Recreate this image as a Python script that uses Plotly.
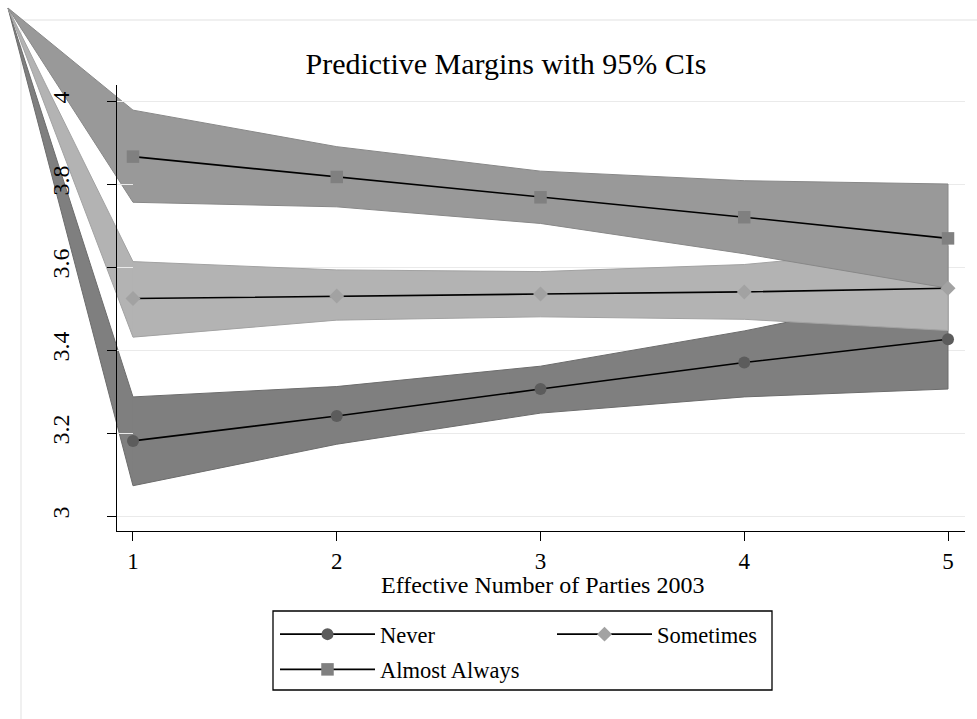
import plotly.graph_objects as go

# ---------------- data ----------------
parties = [1, 2, 3, 4, 5]

never = [3.181, 3.241, 3.306, 3.370, 3.426]
never_lo = [3.073, 3.173, 3.248, 3.287, 3.306]
never_hi = [3.287, 3.312, 3.361, 3.446, 3.546]

sometimes = [3.524, 3.530, 3.535, 3.540, 3.549]
sometimes_lo = [3.431, 3.472, 3.480, 3.474, 3.447]
sometimes_hi = [3.613, 3.593, 3.589, 3.606, 3.651]

almost = [3.866, 3.817, 3.768, 3.720, 3.669]
almost_lo = [3.756, 3.745, 3.705, 3.632, 3.549]
almost_hi = [3.978, 3.890, 3.831, 3.808, 3.800]

y_ticks = [3, 3.2, 3.4, 3.6, 3.8, 4]
y_ticktext = ["3", "3.2", "3.4", "3.6", "3.8", "4"]
x_ticks = [1, 2, 3, 4, 5]

# ---------------- layout geometry ----------------
W, H = 977, 719
ML, MR, MT, MB = 117, 12, 85, 188
X_RANGE = [0.9215, 5.0834]
Y_RANGE = [2.9639, 4.0386]
FONT = "Liberation Serif"


def data_to_paper(x, y):
    return ((x - X_RANGE[0]) / (X_RANGE[1] - X_RANGE[0]),
            (y - Y_RANGE[0]) / (Y_RANGE[1] - Y_RANGE[0]))


def px_to_paper(px, py):
    return ((px - ML) / (W - ML - MR), (H - MB - py) / (H - MT - MB))


series = [
    dict(name="Never", mean=never, lo=never_lo, hi=never_hi,
         band="#7f7f7f", edge="#6c6c6c", mcol="#5c5c5c", symbol="circle", size=12,
         legend="legend", group="a"),
    dict(name="Sometimes", mean=sometimes, lo=sometimes_lo, hi=sometimes_hi,
         band="#b3b3b3", edge="#a2a2a2", mcol="#a2a2a2", symbol="diamond", size=11.5,
         legend="legend2", group="b"),
    dict(name="Almost Always", mean=almost, lo=almost_lo, hi=almost_hi,
         band="#999999", edge="#888888", mcol="#808080", symbol="square", size=12.5,
         legend="legend", group="c"),
]

fig = go.Figure()

# CI bands
for s in series:
    fig.add_trace(go.Scatter(
        x=parties + parties[::-1],
        y=s["hi"] + s["lo"][::-1],
        mode="lines", fill="toself", fillcolor=s["band"],
        line=dict(color=s["edge"], width=1),
        hoverinfo="skip", showlegend=False,
    ))

# connected margins
for s in series:
    fig.add_trace(go.Scatter(
        x=parties, y=s["mean"], name=s["name"],
        mode="lines+markers",
        line=dict(color="black", width=1.6),
        marker=dict(symbol=s["symbol"], size=s["size"], color=s["mcol"],
                    line=dict(width=0)),
        legend=s["legend"], legendgroup=s["group"],
    ))

shapes = []
# light outer frame of the graph region
fx, fy = px_to_paper(21, 20)
_, fbot = px_to_paper(21, 719)
frx, _ = px_to_paper(977, 20)
shapes.append(dict(type="line", xref="paper", yref="paper", x0=fx, y0=fy, x1=fx, y1=fbot,
                   line=dict(color="#ebebeb", width=1.5), layer="below"))
shapes.append(dict(type="line", xref="paper", yref="paper", x0=fx, y0=fy, x1=frx, y1=fy,
                   line=dict(color="#ebebeb", width=1.5), layer="below"))

# the area polygons' stray origin vertex (renderer artefact in the reference)
cx, cy = px_to_paper(8, 8)
for s in series:
    ux, uy = data_to_paper(parties[0], s["hi"][0])
    lx, ly = data_to_paper(parties[0], s["lo"][0])
    shapes.append(dict(type="path", xref="paper", yref="paper",
                       path=f"M{lx},{ly} L{cx},{cy} L{ux},{uy}",
                       fillcolor=s["band"], line=dict(color=s["edge"], width=1),
                       layer="below"))

# legend box
bx0, by0 = px_to_paper(273, 611)
bx1, by1 = px_to_paper(772, 690)
shapes.append(dict(type="rect", xref="paper", yref="paper", x0=bx0, y0=by1, x1=bx1, y1=by0,
                   line=dict(color="black", width=1.3), fillcolor="rgba(0,0,0,0)"))

lg1x, lg1y = px_to_paper(275, 613)
lg2x, _ = px_to_paper(552, 613)

tx, _ = px_to_paper(506, 0)
xtx, xty = px_to_paper(542, 585)

fig.update_layout(
    width=W, height=H,
    margin=dict(l=ML, r=MR, t=MT, b=MB, pad=0),
    paper_bgcolor="white", plot_bgcolor="white",
    font=dict(family=FONT, color="black"),
    title=dict(text="Predictive Margins with 95% CIs", font=dict(family=FONT, size=30, color="black"),
               xref="paper", x=tx, xanchor="center",
               yref="container", y=1 - 63 / H, yanchor="middle"),
    xaxis=dict(range=X_RANGE, tickvals=x_ticks, ticks="outside", ticklen=9, tickwidth=1.3,
               tickcolor="black", showline=True, linecolor="black", linewidth=1.3,
               showgrid=False, zeroline=False,
               tickfont=dict(family=FONT, size=23, color="black")),
    yaxis=dict(range=Y_RANGE, tickvals=y_ticks, ticktext=y_ticktext, ticks="outside",
               ticklen=9, tickwidth=1.3, tickcolor="black", tickangle=-90,
               showline=True, linecolor="black", linewidth=1.3,
               showgrid=True, gridcolor="#eaeaea", gridwidth=1.3, zeroline=False,
               tickfont=dict(family=FONT, size=24, color="black"), ticklabelstandoff=28),
    annotations=[dict(text="Effective Number of Parties 2003", xref="paper", yref="paper",
                      x=xtx, y=xty, xanchor="center", yanchor="middle", showarrow=False,
                      font=dict(family=FONT, size=24, color="black"))],
    legend=dict(x=lg1x, y=lg1y, xanchor="left", yanchor="top", orientation="v",
                bgcolor="rgba(0,0,0,0)", borderwidth=0, itemwidth=95, tracegroupgap=3,
                font=dict(family=FONT, size=22.5, color="black")),
    legend2=dict(x=lg2x, y=lg1y, xanchor="left", yanchor="top", orientation="v",
                 bgcolor="rgba(0,0,0,0)", borderwidth=0, itemwidth=95,
                 font=dict(family=FONT, size=22.5, color="black")),
    shapes=shapes,
    showlegend=True,
)

fig.write_html("out.html")
